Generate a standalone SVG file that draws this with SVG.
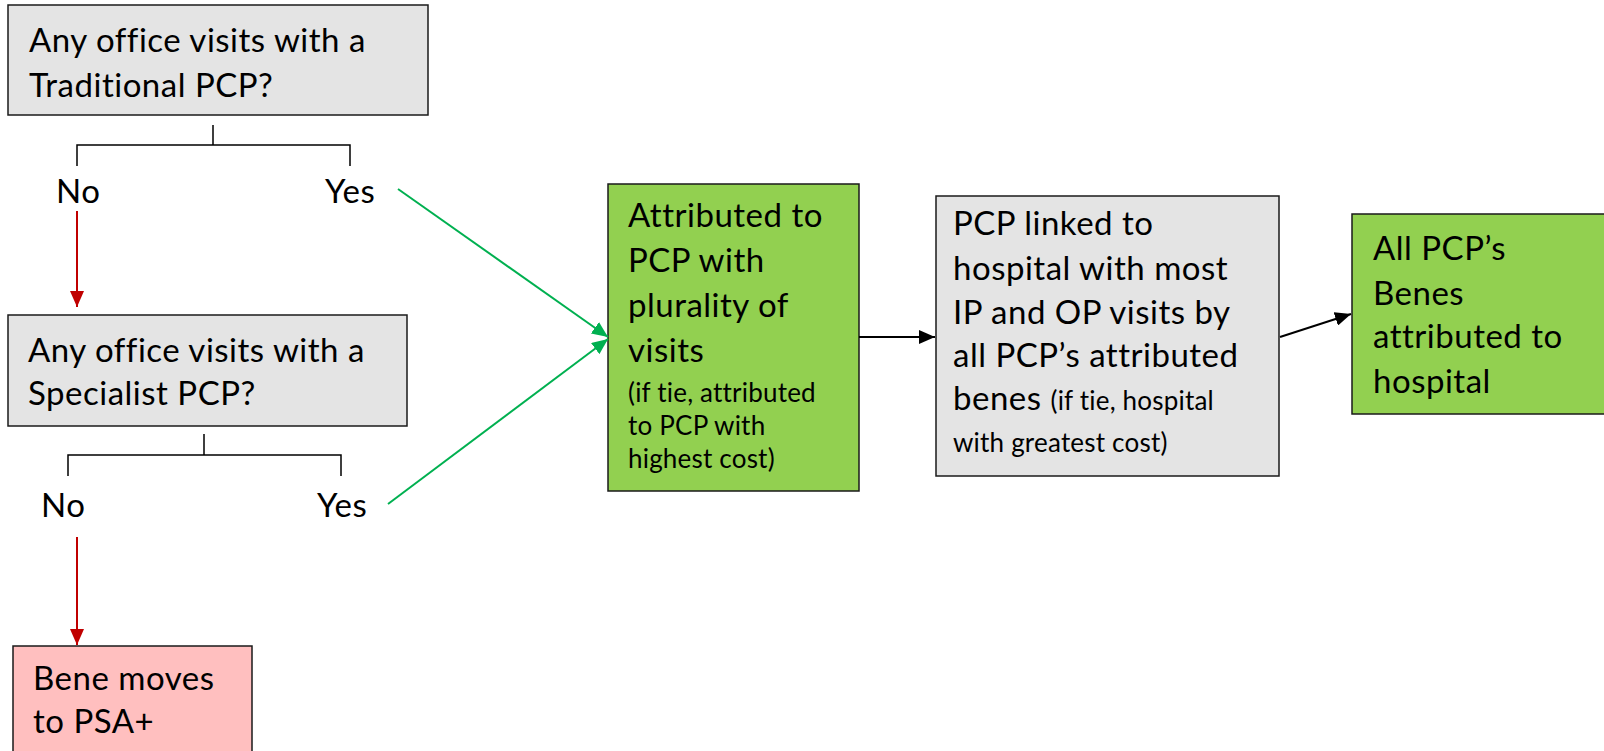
<svg xmlns="http://www.w3.org/2000/svg" width="1604" height="751" viewBox="0 0 1604 751">
<defs>
<style>
.box{stroke:#1a1a1a;stroke-width:1.5}
.gray{fill:#e4e4e4}
.green{fill:#92d050}
.pink{fill:#ffbfbf}
text{font-family:Lato,"Open Sans","Liberation Sans",sans-serif;fill:#000}
.big{font-size:33px;letter-spacing:0.5px}
.small{font-size:26px;letter-spacing:0.2px}
.brace{fill:none;stroke:#000;stroke-width:1.5}
.red{stroke:#c00000;stroke-width:2;fill:none}
.grn{stroke:#00b050;stroke-width:2;fill:none}
.blk{stroke:#000;stroke-width:2;fill:none}
</style>
<marker id="mGrn" viewBox="0 0 10 10" refX="10" refY="5" markerWidth="16" markerHeight="14" markerUnits="userSpaceOnUse" orient="auto" preserveAspectRatio="none"><path d="M0,0 L10,5 L0,10 z" fill="#00b050"/></marker>
<marker id="mBlk" viewBox="0 0 10 10" refX="10" refY="5" markerWidth="16" markerHeight="14" markerUnits="userSpaceOnUse" orient="auto" preserveAspectRatio="none"><path d="M0,0 L10,5 L0,10 z" fill="#000"/></marker>
<marker id="mRed2" viewBox="0 0 10 10" refX="10" refY="5" markerWidth="16" markerHeight="14" markerUnits="userSpaceOnUse" orient="auto" preserveAspectRatio="none"><path d="M0,0 L10,5 L0,10 z" fill="#c00000"/></marker>
</defs>

<g id="q1">
<rect class="box gray" x="8" y="5" width="420" height="110"/>
<text class="big" x="29" y="52">Any office visits with a</text>
<text class="big" x="29" y="97">Traditional PCP?</text>
</g>
<g id="q1-branch">
<path class="brace" d="M213,125 V145 M77,166 V145 H350 V166"/>
<text class="big" x="56" y="203">No</text>
<text class="big" x="325" y="203">Yes</text>
</g>

<g id="q2">
<rect class="box gray" x="8" y="315" width="399" height="111"/>
<text class="big" x="28" y="362">Any office visits with a</text>
<text class="big" x="28" y="405">Specialist PCP?</text>
</g>
<g id="q2-branch">
<path class="brace" d="M204,434 V455 M68,476 V455 H341 V476"/>
<text class="big" x="41" y="517">No</text>
<text class="big" x="317" y="517">Yes</text>
</g>

<g id="psa">
<rect class="box pink" x="13" y="646" width="239" height="120"/>
<text class="big" x="33" y="690">Bene moves</text>
<text class="big" x="33" y="733">to PSA+</text>
</g>

<g id="attrib">
<rect class="box green" x="608" y="184" width="251" height="307"/>
<text class="big" x="628" y="227">Attributed to</text>
<text class="big" x="628" y="272">PCP with</text>
<text class="big" x="628" y="317">plurality of</text>
<text class="big" x="628" y="362">visits</text>
<text class="small" x="628" y="402">(if tie, attributed</text>
<text class="small" x="628" y="435">to PCP with</text>
<text class="small" x="628" y="468">highest cost)</text>
</g>

<g id="linked">
<rect class="box gray" x="936" y="196" width="343" height="280"/>
<text class="big" x="953" y="235">PCP linked to</text>
<text class="big" x="953" y="280">hospital with most</text>
<text class="big" x="953" y="324">IP and OP visits by</text>
<text class="big" x="953" y="367">all PCP’s attributed</text>
<text x="953" y="410"><tspan class="big">benes </tspan><tspan class="small">(if tie, hospital</tspan></text>
<text class="small" x="953" y="452">with greatest cost)</text>
</g>

<g id="hospital">
<rect class="box green" x="1352" y="214" width="262" height="200"/>
<text class="big" x="1373" y="260">All PCP’s</text>
<text class="big" x="1373" y="305">Benes</text>
<text class="big" x="1373" y="348">attributed to</text>
<text class="big" x="1373" y="393">hospital</text>
</g>

<g id="connectors">
<line class="red" x1="77" y1="211" x2="77" y2="307" marker-end="url(#mRed2)"/>
<line class="red" x1="77" y1="537" x2="77" y2="645" marker-end="url(#mRed2)"/>
<line class="grn" x1="398" y1="189" x2="608" y2="337" marker-end="url(#mGrn)"/>
<line class="grn" x1="388" y1="504" x2="608" y2="339" marker-end="url(#mGrn)"/>
<line class="blk" x1="859" y1="337" x2="935" y2="337" marker-end="url(#mBlk)"/>
<line class="blk" x1="1280" y1="337" x2="1351" y2="314" marker-end="url(#mBlk)"/>
</g>
</svg>
